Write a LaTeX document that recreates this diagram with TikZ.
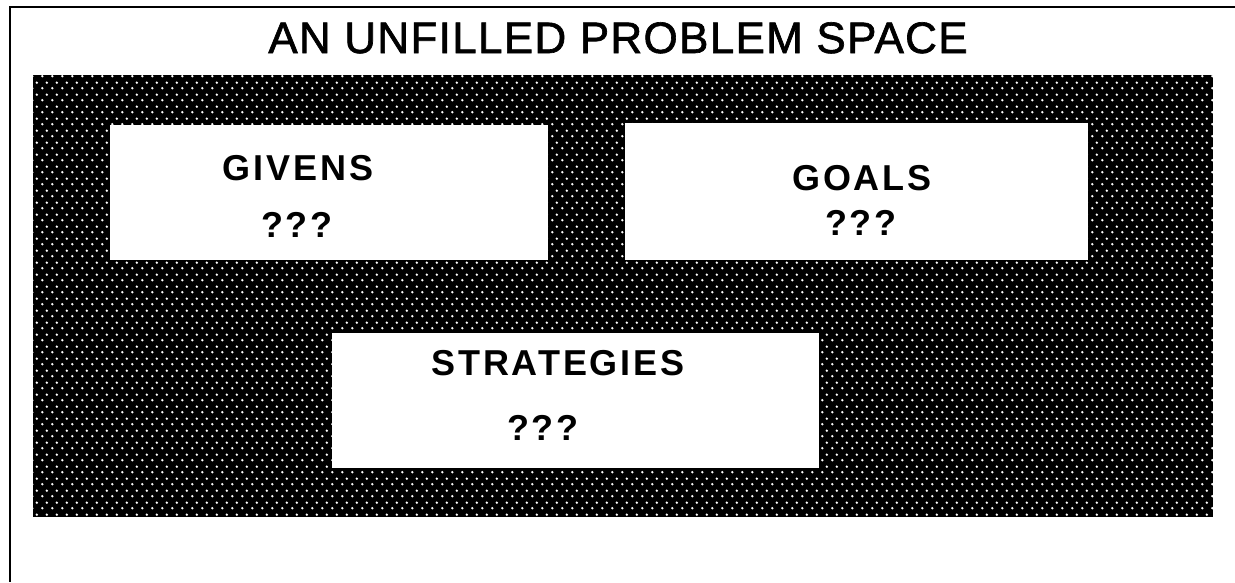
\documentclass[tikz,border=0pt]{standalone}
\usepackage{fontspec}
\setmainfont{Liberation Sans}
\newfontfamily\titlefont[LetterSpace=3,FakeBold=1.5]{Liberation Sans}
\newfontfamily\boxfont[LetterSpace=8]{Liberation Sans Bold}
\usetikzlibrary{patterns.meta}
\tikzdeclarepattern{
  name=macdots,
  type=uncolored,
  bounding box={(0pt,0pt) and (10pt,12pt)},
  tile size={(10pt,12pt)},
  code={
    \fill (2.5pt,3pt) circle (1.4pt);
    \fill (7.5pt,9pt) circle (1.4pt);
  }
}
\tikzset{
  frame/.style={line width=2.5pt, black},
  panel/.style={fill=black},
  panelpattern/.style={pattern=macdots, pattern color=white},
  whitebox/.style={fill=white, draw=none, inner sep=0pt},
  titletext/.style={font=\titlefont\fontsize{44}{50}\selectfont, anchor=base, inner sep=0pt},
  label/.style={font=\boxfont\fontsize{36}{40}\selectfont, anchor=base, inner sep=0pt}
}
\begin{document}
\begin{tikzpicture}[x=1pt,y=-1pt]
\useasboundingbox (0,0) rectangle (1235,582);
% outer frame (top and left edges)
\coordinate (ftl) at (10,7);
\coordinate (ftr) at (1235,7);
\coordinate (fbl) at (10,582);
\draw[frame] (ftr) -- (ftl) -- (fbl);
% title
\node[titletext] (title) at (618,53) {AN UNFILLED PROBLEM SPACE};
% dotted dark panel
\fill[panel] (33,75) rectangle (1213,517);
\fill[panelpattern] (33,75) rectangle (1213,517);
% boxes
\node[whitebox, minimum width=438pt, minimum height=135pt] (givens) at (329,192.5) {};
\node[whitebox, minimum width=463pt, minimum height=137pt] (goals) at (856.5,191.5) {};
\node[whitebox, minimum width=487pt, minimum height=135pt] (strategies) at (575,400) {};
% labels
\node[label] (givensT) at (298,180) {GIVENS};
\node[label] (givensQ) at (297,237) {???};
\node[label] (goalsT) at (862,190) {GOALS};
\node[label] (goalsQ) at (861,235) {???};
\node[label] (strategiesT) at (558,375) {STRATEGIES};
\node[label] (strategiesQ) at (543,440) {???};
\end{tikzpicture}
\end{document}
